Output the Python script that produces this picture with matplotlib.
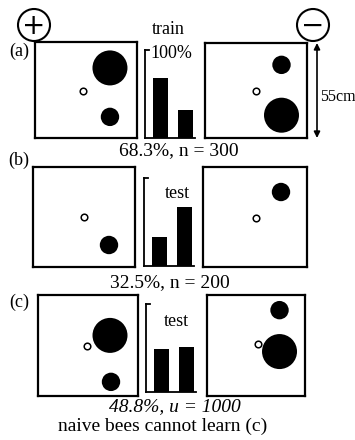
import matplotlib
matplotlib.use('Agg')
import matplotlib.pyplot as plt
from matplotlib.patches import Circle

plt.rcParams['font.family'] = ['Liberation Serif', 'DejaVu Serif']

# ---------------- data ----------------
panel_labels = ['(a)', '(b)', '(c)']
bar_titles = ['train', 'test', 'test']
pct_plus = [68.3, 32.5, 48.8]           # choices of the "+" pattern
pct_minus = [31.7, 67.5, 51.2]          # choices of the "-" pattern
summaries = ['68.3%, n = 300', '32.5%, n = 200', '48.8%, u = 1000']
summary_italic = [False, False, True]
footer = 'naive bees cannot learn (c)'

# stimulus discs (x, y in square units, kind 'big'/'small'); open dot = entrance
plus_discs = [
    [(0.735, 0.73, 'big'), (0.735, 0.22, 'small')],
    [(0.745, 0.22, 'small')],
    [(0.72, 0.60, 'big'), (0.73, 0.14, 'small')],
]
minus_discs = [
    [(0.75, 0.77, 'small'), (0.75, 0.24, 'big')],
    [(0.75, 0.75, 'small')],
    [(0.74, 0.44, 'big'), (0.74, 0.85, 'small')],
]
plus_entrance = [(0.47, 0.49), (0.50, 0.50), (0.485, 0.50)]
minus_entrance = [(0.50, 0.49), (0.51, 0.49), (0.52, 0.51)]

# ---------------- layout (pixels) ----------------
W, H = 355, 440
DPI = 100
fig = plt.figure(figsize=(W / DPI, H / DPI), dpi=DPI)

left_sq = [(35, 42, 137, 138), (33, 167, 135, 267), (38, 295, 138, 396)]
right_sq = [(205, 43, 307, 138), (203, 167, 307, 267), (207, 295, 305, 396)]
bar_box = [(145, 50, 195, 138), (144, 178, 194, 266), (146, 304, 196, 392)]
radius_px = {'big': 17.5, 'small': 9.2}


def px_axes(box):
    x0, y0, x1, y1 = box
    return fig.add_axes([x0 / W, 1 - y1 / H, (x1 - x0) / W, (y1 - y0) / H])


def area_from_radius(r_px):
    d_pt = 2 * r_px * 72 / DPI
    return d_pt ** 2


def draw_square(box, discs, entrance):
    ax = px_axes(box)
    ax.set_xlim(0, 1)
    ax.set_ylim(0, 1)
    ax.set_xticks([])
    ax.set_yticks([])
    for s in ax.spines.values():
        s.set_linewidth(1.6)
        s.set_color('black')
    for (x, y, kind) in discs:
        ax.scatter([x], [y], s=area_from_radius(radius_px[kind]), c='black',
                   edgecolors='none', zorder=3)
    ax.scatter([entrance[0]], [entrance[1]], s=area_from_radius(3.3),
               facecolors='white', edgecolors='black', linewidths=1.1, zorder=3)


def draw_bars(box, vals):
    ax = px_axes(box)
    ax.bar([0, 1], vals, width=0.6, color='black')
    ax.set_xlim(-0.6, 1.4)
    ax.set_ylim(0, 100)
    ax.set_xticks([])
    ax.set_yticks([])
    ax.patch.set_alpha(0)
    for k in ['top', 'right']:
        ax.spines[k].set_visible(False)
    for k in ['left', 'bottom']:
        ax.spines[k].set_linewidth(1.3)
    ax.plot([0, 0.07], [1, 1], transform=ax.transAxes, color='black',
            lw=1.3, clip_on=False)
    return ax


for i in range(3):
    draw_square(left_sq[i], plus_discs[i], plus_entrance[i])
    draw_square(right_sq[i], minus_discs[i], minus_entrance[i])
    draw_bars(bar_box[i], [pct_plus[i], pct_minus[i]])

# ---------------- overlay in pixel coordinates ----------------
ov = fig.add_axes([0, 0, 1, 1])
ov.set_xlim(0, W)
ov.set_ylim(H, 0)
ov.axis('off')
ov.patch.set_alpha(0)

fs = 14
label_y = [51, 160, 302]
for i in range(3):
    ov.text(19, label_y[i], panel_labels[i], ha='center', va='center', fontsize=fs - 1)

ov.text(168, 30, bar_titles[0], ha='center', va='center', fontsize=fs - 1)
ov.text(150, 54, '100%', ha='left', va='center', fontsize=fs - 1)
ov.text(177, 193, bar_titles[1], ha='center', va='center', fontsize=fs - 1)
ov.text(176, 321, bar_titles[2], ha='center', va='center', fontsize=fs - 1)

sum_xy = [(179, 151), (170, 283), (175, 407)]
for i in range(3):
    ov.text(sum_xy[i][0], sum_xy[i][1], summaries[i], ha='center', va='center',
            fontsize=fs, style='italic' if summary_italic[i] else 'normal')
ov.text(163, 426, footer, ha='center', va='center', fontsize=fs)

# + / - circles
for (cx, cy, sym) in [(34, 25, '+'), (313, 25, '\u2212')]:
    ov.add_patch(Circle((cx, cy), 16, fill=False, lw=1.5, color='black'))
    ov.text(cx, cy + 1, sym, ha='center', va='center', fontsize=20,
            family='DejaVu Sans')

# 55 cm arrow
ov.annotate('', xy=(317, 43), xytext=(317, 138),
            arrowprops=dict(arrowstyle='<|-|>', color='black', lw=1.2,
                            mutation_scale=9, shrinkA=0, shrinkB=0))
ov.text(320, 97, '55cm', ha='left', va='center', fontsize=11.5)

fig.savefig('out.png', dpi=DPI)
